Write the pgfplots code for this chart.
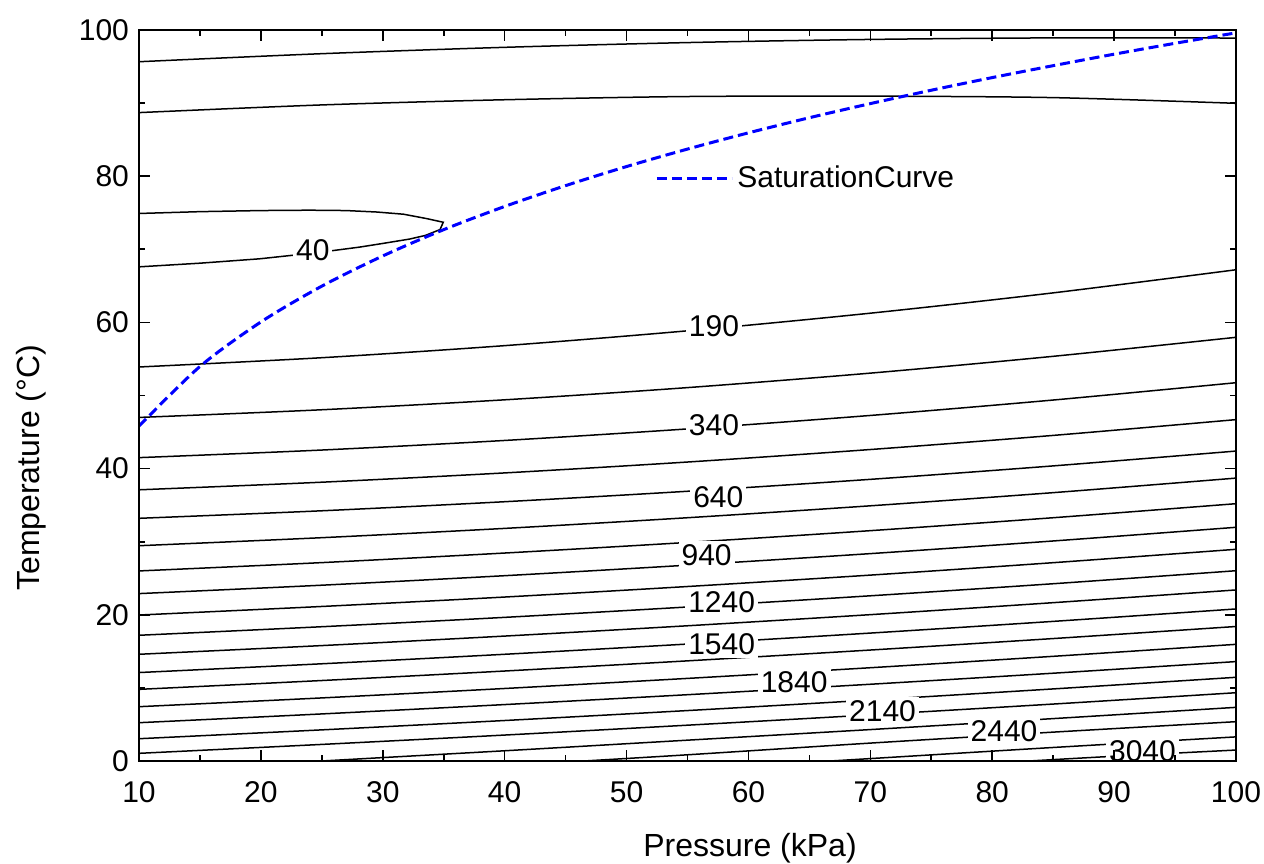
\documentclass[border=0pt]{standalone}
\usepackage{pgfplots}
\pgfplotsset{compat=1.18}
\usepackage{fontspec}
\setmainfont{Liberation Sans}
\tikzset{clab/.style={fill=white, inner sep=1.5pt}}

\begin{document}
\begin{tikzpicture}[font=\fontsize{15}{18}\selectfont]
\begin{axis}[
  scale only axis, width=548.5pt, height=365.5pt,
  xmin=10, xmax=100, ymin=0, ymax=100,
  xtick={10,20,...,100}, ytick={0,20,...,100},
  minor x tick num=1, minor y tick num=1,
  tick align=inside, major tick length=5.5pt, minor tick length=3pt,
  every tick/.style={black, line width=0.8pt},
  axis line style={line width=1.4pt},
  axis on top,
  /pgf/number format/assume math mode=true,
  xticklabel style={yshift=-6.5pt},
  yticklabel style={xshift=-1.5pt},
  xlabel={Pressure (kPa)}, ylabel={Temperature (°C)},
  xlabel style={at={(axis description cs:0.557,-0.119)}, anchor=center, font=\fontsize{16}{19}\selectfont},
  ylabel style={at={(axis description cs:-0.0978,0.401)}, anchor=center, font=\fontsize{16}{19}\selectfont},
  legend style={at={(axis cs:52.33,79.75)}, anchor=west, draw=none, fill=none, inner sep=0pt},
  legend image code/.code={\draw[#1] (0pt,0pt) -- (37.5pt,0pt);},
  cline/.style={black, line width=0.75pt, smooth, forget plot},
]
% top contours
\addplot[cline] coordinates {(10,95.66) (25,96.76) (40,97.63) (55,98.28) (70,98.71) (85,98.92) (100,98.9)};
\addplot[cline] coordinates {(10,88.7) (25,89.75) (40,90.46) (55,90.9) (70,90.95) (85,90.75) (100,89.97)};
% 40 loop
\addplot[black, line width=0.75pt, forget plot] coordinates {(10,74.9) (15,75.15) (20,75.3) (24,75.35) (27,75.3) (29.5,75.1) (31.7,74.8) (33.6,74.2) (34.96,73.7) (34.7,72.7) (33.5,71.9) (32.2,71.4) (30,70.8) (28.1,70.3) (25.8,69.8) (22.7,69.2) (19.9,68.7) (15,68.1) (10,67.6)};
% main family
\addplot[cline] coordinates {(10,53.9) (25,55.17) (40,56.82) (55,58.85) (70,61.26) (85,64.04) (100,67.2)};
\addplot[cline] coordinates {(10,47.0) (25,48.05) (40,49.41) (55,51.08) (70,53.06) (85,55.36) (100,57.96)};
\addplot[cline] coordinates {(10,41.5) (25,42.54) (40,43.85) (55,45.43) (70,47.27) (85,49.38) (100,51.75)};
\addplot[cline] coordinates {(10,37.1) (25,38.14) (40,39.41) (55,40.9) (70,42.61) (85,44.54) (100,46.7)};
\addplot[cline] coordinates {(10,33.2) (25,34.23) (40,35.47) (55,36.9) (70,38.53) (85,40.37) (100,42.4)};
\addplot[cline] coordinates {(10,29.45) (25,30.55) (40,31.82) (55,33.28) (70,34.91) (85,36.71) (100,38.7)};
\addplot[cline] coordinates {(10,26.0) (25,27.14) (40,28.45) (55,29.9) (70,31.51) (85,33.28) (100,35.2)};
\addplot[cline] coordinates {(10,22.9) (25,24.05) (40,25.35) (55,26.79) (70,28.37) (85,30.1) (100,31.97)};
\addplot[cline] coordinates {(10,19.97) (25,21.14) (40,22.43) (55,23.87) (70,25.43) (85,27.13) (100,28.96)};
\addplot[cline] coordinates {(10,17.2) (25,18.37) (40,19.65) (55,21.07) (70,22.6) (85,24.25) (100,26.03)};
\addplot[cline] coordinates {(10,14.6) (25,15.79) (40,17.09) (55,18.5) (70,20.02) (85,21.66) (100,23.4)};
\addplot[cline] coordinates {(10,12.1) (25,13.3) (40,14.6) (55,16.0) (70,17.5) (85,19.1) (100,20.8)};
\addplot[cline] coordinates {(10,9.8) (25,11.01) (40,12.31) (55,13.7) (70,15.18) (85,16.75) (100,18.4)};
\addplot[cline] coordinates {(10,7.43) (25,8.63) (40,9.92) (55,11.3) (70,12.76) (85,14.32) (100,15.96)};
\addplot[cline] coordinates {(10,5.24) (25,6.44) (40,7.72) (55,9.07) (70,10.5) (85,12.01) (100,13.6)};
\addplot[cline] coordinates {(10,3.05) (25,4.26) (40,5.54) (55,6.9) (70,8.34) (85,9.86) (100,11.45)};
\addplot[cline] coordinates {(10,1.05) (25,2.27) (40,3.55) (55,4.9) (70,6.31) (85,7.79) (100,9.34)};
\addplot[cline] coordinates {(24,-0.13) (25,0) (40,1.4) (55,2.85) (70,4.3) (85,5.8) (100,7.34)};
\addplot[cline] coordinates {(45.5,-0.1) (46.5,0) (55,0.85) (70,2.45) (85,3.95) (100,5.38)};
\addplot[cline] coordinates {(65.7,-0.1) (66.7,0) (70,0.33) (85,1.85) (100,3.3)};
\addplot[cline] coordinates {(82,-0.1) (83,0) (90,0.65) (100,1.5)};
% saturation curve
\addplot[blue, line width=1.5pt, dash pattern=on 5pt off 2.5pt, smooth] coordinates {
(10,45.81) (15,53.97) (20,60.06) (25,64.96) (30,69.09) (35,72.69) (40,75.86) (45,78.71) (50,81.32) (55,83.71) (60,85.93) (65,88.00) (70,89.93) (75,91.76) (80,93.49) (85,95.12) (90,96.69) (95,98.18) (100,99.61)};
\addlegendentry{SaturationCurve}
% contour labels
\node[clab] at (axis cs:24.26,69.86) {40};
\node[clab] at (axis cs:57.17,59.5) {190};
\node[clab] at (axis cs:57.17,45.96) {340};
\node[clab] at (axis cs:57.53,36.05) {640};
\node[clab] at (axis cs:56.57,28.18) {940};
\node[clab] at (axis cs:57.8,21.68) {1240};
\node[clab] at (axis cs:57.8,15.98) {1540};
\node[clab] at (axis cs:63.75,10.74) {1840};
\node[clab] at (axis cs:71.0,6.84) {2140};
\node[clab] at (axis cs:80.97,4.10) {2440};
\node[clab] at (axis cs:92.33,1.39) {3040};
\end{axis}
\pgfresetboundingbox
\path[use as bounding box] (current axis.south west) ++(-69.5pt,-51pt) rectangle ++(632pt,431.5pt);
\end{tikzpicture}
\end{document}
